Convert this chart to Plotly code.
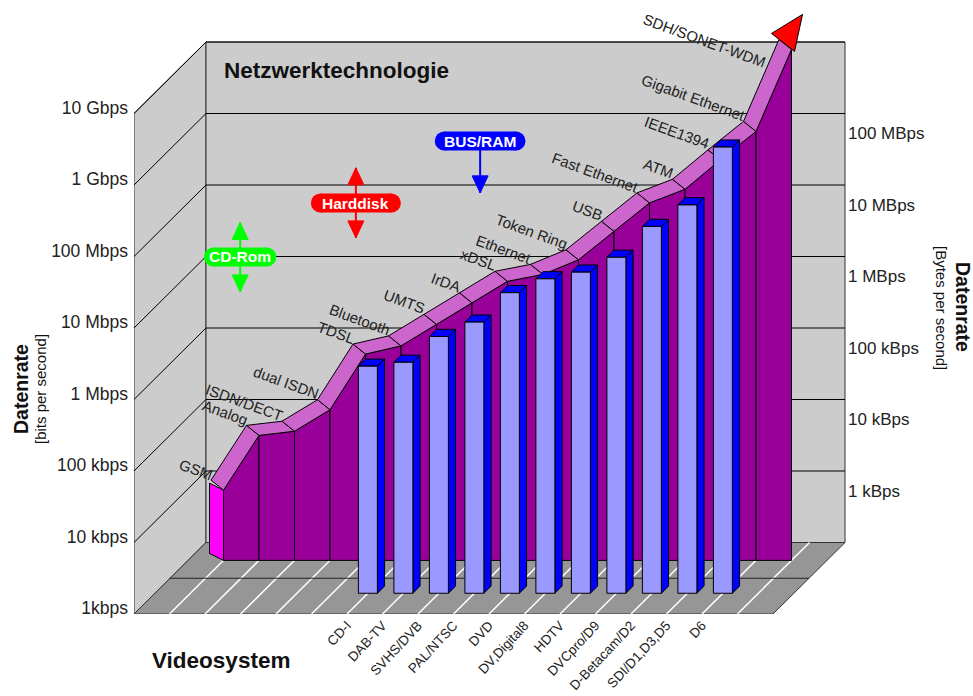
import math
import plotly.graph_objects as go

# ---------- data ----------
net_names = ["GSM", "Analog", "ISDN/DECT", "dual ISDN", "TDSL", "Bluetooth", "UMTS", "IrDA", "xDSL",
             "Ethernet", "Token Ring", "USB", "Fast Ethernet", "ATM", "IEEE1394", "Gigabit Ethernet",
             "SDH/SONET-WDM"]
net_kbps = [9.6, 56, 64, 128, 768, 1000, 2000, 4000, 8000, 10000, 16000, 40000, 100000, 155000,
            400000, 1000000, 14000000]
video_names = ["CD-I", "DAB-TV", "SVHS/DVB", "PAL/NTSC", "DVD", "DV,Digital8", "HDTV", "DVCpro/D9",
               "D-Betacam/D2", "SDI/D1,D3,D5", "D6"]
video_kbps = [1500, 1700, 3900, 6200, 16000, 25000, 31000, 50000, 135000, 270000, 1740000]
left_ticks = [1, 10, 100, 1000, 10000, 100000, 1000000, 10000000]
left_labels = ["1kbps", "10 kbps", "100 kbps", "1 Mbps", "10 Mbps", "100 Mbps", "1 Gbps", "10 Gbps"]
right_ticks = [1, 10, 100, 1000, 10000, 100000]
right_labels = ["1 kBps", "10 kBps", "100 kBps", "1 MBps", "10 MBps", "100 MBps"]
badge_names = ["CD-Rom", "Harddisk", "BUS/RAM"]
badge_colors = ["#00FF00", "#FF0000", "#0000FF"]
badge_pos = [2.99, 6.25, 9.75]
badge_mid = [98500, 560000, 4120000]
badge_low = [32000, 182000, 776000]
badge_high = [300000, 1740000, None]
badge_half = [0.75, 1.0, 1.01]

# ---------- layout scales ----------
W, H = 973, 696
L, R, T, B = 134, 846, 0, 614
CAT = 35.5       # px per category on the front plane
DEC = 71.5       # px per decade
DEPTH = 72 / CAT # depth 1 shift in category units
NCAT = 18
XMAX = (R - L) / CAT
YMAX = (B - T) / DEC
D_AREA, D_BAR, BAR_D = 0.75, 0.29, 0.10
BAR_HW = 9.5 / CAT
FONT = "Liberation Sans"

def P(i, d, v):
    return i + d * DEPTH, v * 10 ** d

def off(p, dx, dy):
    return p[0] + dx / CAT, p[1] * 10 ** (-dy / DEC)

fig = go.Figure()

def poly(pts, fill=None, line="#000000", w=1):
    xs = [p[0] for p in pts]
    ys = [p[1] for p in pts]
    if fill:
        xs, ys = xs + xs[:1], ys + ys[:1]
    fig.add_trace(go.Scatter(x=xs, y=ys, mode="lines", fill="toself" if fill else None,
                             fillcolor=fill, line=dict(color=line, width=w),
                             hoverinfo="skip", showlegend=False, cliponaxis=False))

# walls
poly([P(0, 0, 1), P(0, 1, 1), P(0, 1, 1e7), P(0, 0, 1e7)], "#CCCCCC", "#333333")
poly([P(0, 1, 1), P(NCAT, 1, 1), P(NCAT, 1, 1e7), P(0, 1, 1e7)], "#CCCCCC", "#333333")
for v in left_ticks[1:]:
    poly([P(0, 0, v), P(0, 1, v), P(NCAT, 1, v)])

# floor
poly([P(0, 0, 1), P(NCAT, 0, 1), P(NCAT, 1, 1), P(0, 1, 1)], "#969696", "#333333")
for i in range(1, NCAT):
    poly([P(i, 0, 1), P(i, 1, 1)], None, "#FFFFFF", 1.5)
poly([P(0, 0.5, 1), P(NCAT, 0.5, 1)], None, "#222222")

# network area: side face, columns, ribbon
n = len(net_kbps)
front = [P(i + 1, D_AREA, v) for i, v in enumerate(net_kbps)]
base = [P(i + 1, D_AREA, 1) for i in range(n)]
def side(p):
    return off(p, -14, -7)
def back(p):
    return off(p, -12.5, -10)
poly([side(base[0]), base[0], front[0], side(front[0])], "#FF00FF")
for i in range(n - 1):
    poly([base[i], base[i + 1], front[i + 1], front[i]], "#990099")
for i in range(n - 1):
    poly([front[i], front[i + 1], back(front[i + 1]), back(front[i])], "#CC66CC")

# red arrow head at the end of the ribbon
tip = front[-1]
poly([off(tip, 11, -35), off(tip, -20, -16), off(tip, 3, 2)], "#FF0000")

# video bars
for i, v in enumerate(video_kbps):
    c = i + 6
    a = P(c - BAR_HW, D_BAR, 1); b = P(c + BAR_HW, D_BAR, 1)
    at = P(c - BAR_HW, D_BAR, v); bt = P(c + BAR_HW, D_BAR, v)
    a2t = P(c - BAR_HW, D_BAR + BAR_D, v); b2t = P(c + BAR_HW, D_BAR + BAR_D, v)
    b2 = P(c + BAR_HW, D_BAR + BAR_D, 1)
    poly([b, b2, b2t, bt], "#0000FF")
    poly([at, bt, b2t, a2t], "#0000FF")
    poly([a, b, bt, at], "#9999FF")

# badges with their arrows
ann = []
for name, col, x, mid, lo, hi, hw in zip(badge_names, badge_colors, badge_pos, badge_mid, badge_low,
                                         badge_high, badge_half):
    head = 17 / DEC
    hwx = 8 / CAT
    if hi is not None:
        poly([(x, hi), (x, lo)], None, col, 2)
        poly([(x, hi), (x - hwx, hi / 10 ** head), (x + hwx, hi / 10 ** head)], col, col)
    else:
        poly([(x, mid), (x, lo)], None, col, 2)
    poly([(x, lo), (x - hwx, lo * 10 ** head), (x + hwx, lo * 10 ** head)], col, col)
    fig.add_trace(go.Scatter(x=[x - hw, x + hw], y=[mid, mid], mode="lines+markers",
                             line=dict(color=col, width=19), marker=dict(color=col, size=19),
                             hoverinfo="skip", showlegend=False, cliponaxis=False))
    ann.append(dict(x=x, y=math.log10(mid), xref="x", yref="y", text="<b>%s</b>" % name,
                    showarrow=False, font=dict(family=FONT, size=15.5, color="#FFFFFF")))

# empty traces so the label axes exist
fig.add_trace(go.Scatter(x=[None], y=[None], yaxis="y2", hoverinfo="skip", showlegend=False))
fig.add_trace(go.Scatter(x=[None], y=[None], yaxis="y3", hoverinfo="skip", showlegend=False))

# network labels along the ribbon
for i, (name, p) in enumerate(zip(net_names, front)):
    bp = off(p, -13, -8)
    xs, ys = 5.5, -2
    if name == "SDH/SONET-WDM":
        xs, ys = -9, -30
    ann.append(dict(x=bp[0], y=math.log10(bp[1]), xref="x", yref="y", text=name, showarrow=False,
                    textangle=20, xanchor="right", yanchor="bottom", xshift=xs, yshift=ys,
                    borderpad=0, font=dict(family=FONT, size=15, color="#222222")))

def paper(px, py, text, size, angle=0):
    ann.append(dict(x=(px - L) / (R - L), y=(B - py) / (B - T), xref="paper", yref="paper", text=text,
                    showarrow=False, textangle=angle, xanchor="center", yanchor="middle",
                    font=dict(family=FONT, size=size, color="#111111")))

paper(336, 70, "<b>Netzwerktechnologie</b>", 22.5)
paper(221, 660, "<b>Videosystem</b>", 22.5)
paper(21, 389, "<b>Datenrate</b>", 19.5, -90)
paper(40, 389, "[bits per second]", 15, -90)
paper(963, 307, "<b>Datenrate</b>", 19.5, 90)
paper(942, 308, "[Bytes per second]", 15, 90)

LEFT_SHIFT = 6 / DEC
RIGHT_LOW = -123 / DEC
fig.update_layout(
    width=W, height=H, paper_bgcolor="#FFFFFF", plot_bgcolor="rgba(0,0,0,0)", showlegend=False,
    margin=dict(l=L, r=W - R, t=T, b=H - B, autoexpand=False),
    annotations=ann,
    hovermode=False,
    xaxis=dict(range=[0, XMAX], showgrid=False, zeroline=False, showline=False, ticks="",
               tickmode="array", tickvals=[i + 6 for i in range(len(video_names))], ticktext=video_names,
               tickangle=-47, ticklabelstandoff=0,
               tickfont=dict(family=FONT, size=13.5, color="#222222")),
    yaxis=dict(type="log", range=[0, YMAX], showgrid=False, zeroline=False, showline=False,
               showticklabels=False, ticks=""),
    yaxis2=dict(type="log", range=[-LEFT_SHIFT, YMAX - LEFT_SHIFT], overlaying="y", side="left", anchor="x",
                showgrid=False, zeroline=False, showline=False, ticks="", tickmode="array",
                tickvals=left_ticks, ticktext=left_labels, ticklabelstandoff=5,
                tickfont=dict(family=FONT, size=17.5, color="#222222")),
    yaxis3=dict(type="log", range=[RIGHT_LOW, RIGHT_LOW + YMAX], overlaying="y", side="right", anchor="x",
                showgrid=False, zeroline=False, showline=False, ticks="", tickmode="array",
                tickvals=right_ticks, ticktext=right_labels, ticklabelstandoff=1,
                tickfont=dict(family=FONT, size=17, color="#222222")),
)
fig.write_html("out.html", config={"displayModeBar": False},
               post_script="document.body.style.margin='0';")
